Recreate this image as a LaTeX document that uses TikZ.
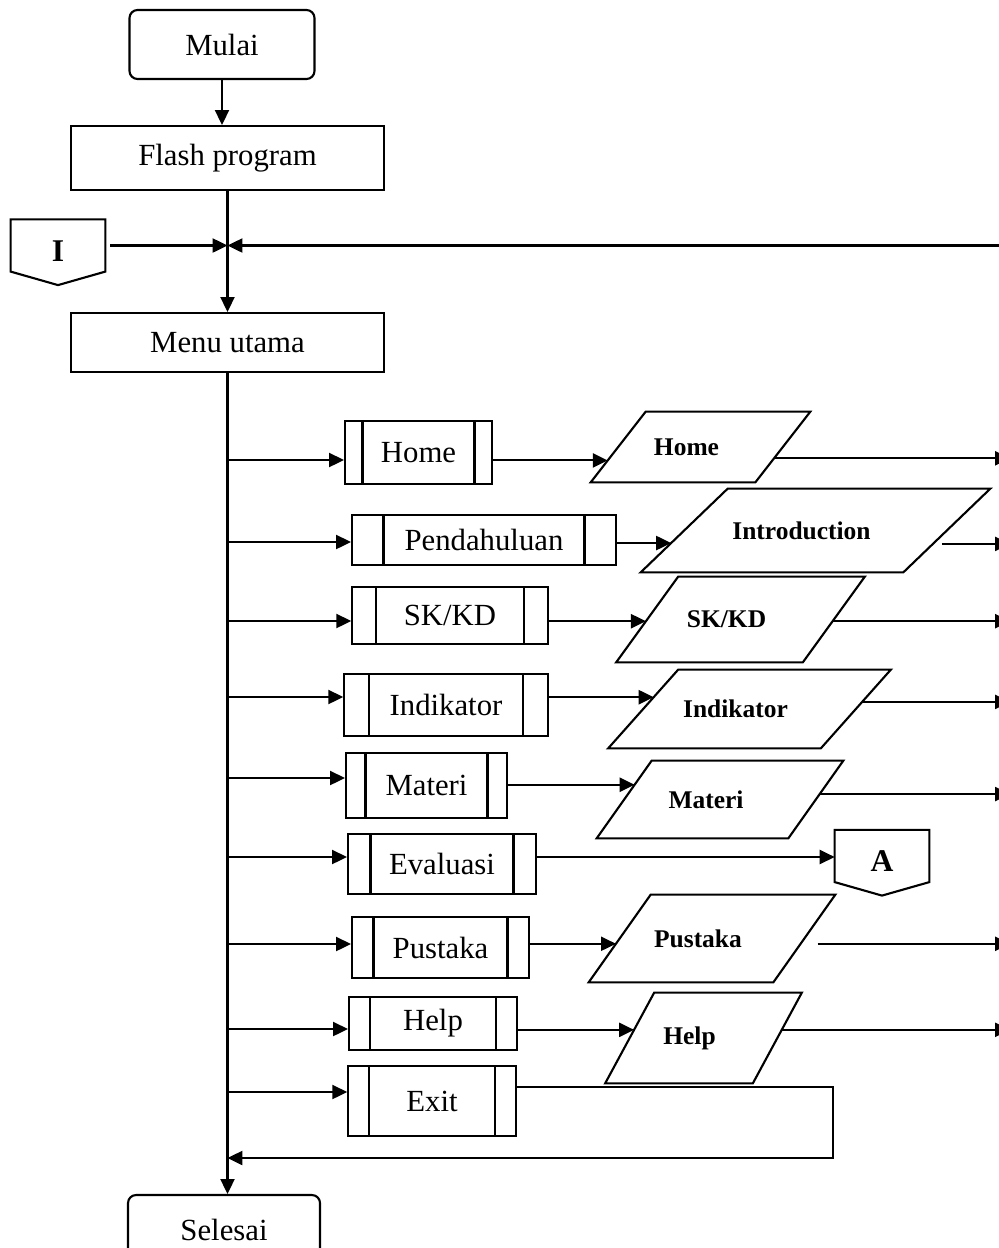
\documentclass[tikz,border=0pt]{standalone}
\usepackage{fontspec}
\setmainfont{Liberation Serif}
\usepackage{tikz}
\usetikzlibrary{arrows.meta,calc}

\tikzset{
	wire/.style={line width=1.2pt},
	flow/.style={wire, -{Triangle[length=8.5pt,width=8pt]}},
	box/.style={draw, wire, inner sep=0pt, font=\fontsize{17.5}{20}\selectfont},
	term/.style={box, rounded corners=0.16cm},
	subproc/.style={box, path picture={
			\draw[wire]
			([xshift=#1]path picture bounding box.north west) -- ([xshift=#1]path picture bounding box.south west)
			([xshift=-#1]path picture bounding box.north east) -- ([xshift=-#1]path picture bounding box.south east);}},
	% parallelogram, #1 = half of the slant
	io/.style={inner sep=0pt, font=\fontsize{14.5}{17}\selectfont\bfseries,
		execute at end node={\hspace{0.56cm}},
		append after command={\pgfextra{\let\ioname\tikzlastnode
				\coordinate (\ioname-bl) at ([xshift=-#1]\ioname.south west);
				\coordinate (\ioname-tl) at ([xshift=#1]\ioname.north west);
				\coordinate (\ioname-tr) at ([xshift=#1]\ioname.north east);
				\coordinate (\ioname-br) at ([xshift=-#1]\ioname.south east);
				\draw[wire] (\ioname-bl) -- (\ioname-tl) -- (\ioname-tr) -- (\ioname-br) -- cycle;}}},
	offpage/.style={inner sep=0pt, minimum width=1.88cm, minimum height=1.03cm,
		text height=0.62cm, text depth=0pt, font=\fontsize{18}{20}\selectfont\bfseries,
		append after command={\pgfextra{\draw[wire]
				(\tikzlastnode.north west) -- (\tikzlastnode.north east) -- (\tikzlastnode.south east)
				-- ([yshift=-0.27cm]\tikzlastnode.south) -- (\tikzlastnode.south west) -- cycle;}}}
}

\begin{document}
\begin{tikzpicture}[x=0.02cm, y=-0.02cm]
	\useasboundingbox (0,0) rectangle (998,1248);
	
	% main column
	\node[term, minimum width=3.70cm, minimum height=1.38cm] (start) at (222,44.5) {Mulai};
	\node[box, minimum width=6.26cm, minimum height=1.28cm] (flash) at (227.5,158) {Flash program};
	\node[box, minimum width=6.26cm, minimum height=1.18cm] (menu) at (227.5,342.5) {Menu utama};
	\node[term, minimum width=3.84cm, minimum height=1.40cm] (stop) at (224,1230) {Selesai};
	\node[offpage] (I) at (58,245.5) {I};
	
	% menu buttons
	\node[subproc=0.35cm, minimum width=2.94cm, minimum height=1.26cm] (Home) at (418.5,452.5) {Home};
	\node[subproc=0.63cm, minimum width=5.28cm, minimum height=1.00cm] (Pend) at (484,540) {Pendahuluan};
	\node[subproc=0.48cm, minimum width=3.91cm, minimum height=1.14cm] (SKKD) at (450,615.5) {SK/KD};
	\node[subproc=0.49cm, minimum width=4.07cm, minimum height=1.24cm] (Ind) at (446,705) {Indikator};
	\node[subproc=0.39cm, minimum width=3.22cm, minimum height=1.30cm] (Mat) at (426.5,785.5) {Materi};
	\node[subproc=0.45cm, minimum width=3.76cm, minimum height=1.20cm] (Eval) at (442,864) {Evaluasi};
	\node[subproc=0.43cm, minimum width=3.54cm, minimum height=1.22cm] (Pus) at (440.5,947.5) {Pustaka};
	\node[subproc=0.42cm, minimum width=3.36cm, minimum height=1.06cm] (Help) at (433,1023.5) {Help};
	\node[subproc=0.41cm, minimum width=3.35cm, minimum height=1.40cm] (Exit) at (432,1101) {Exit};
	
	% pages shown
	\node[io=0.55cm, minimum width=3.28cm, minimum height=1.40cm] (HomeIO) at (700.5,447) {Home};
	\node[io=0.87cm, minimum width=5.24cm, minimum height=1.66cm] (PendIO) at (815.5,530.5) {Introduction};
	\node[io=0.62cm, minimum width=3.72cm, minimum height=1.70cm] (SKKDIO) at (740.5,619.5) {SK/KD};
	\node[io=0.70cm, minimum width=4.24cm, minimum height=1.56cm] (IndIO) at (749.5,709) {Indikator};
	\node[io=0.55cm, minimum width=3.82cm, minimum height=1.54cm] (MatIO) at (720,799.5) {Materi};
	\node[io=0.62cm, minimum width=3.68cm, minimum height=1.74cm] (PusIO) at (712,938.5) {Pustaka};
	\node[io=0.49cm, minimum width=2.94cm, minimum height=1.80cm] (HelpIO) at (703.5,1038) {Help};
	\node[offpage] (A) at (882,856) {A};
	
	\path % right border and the exit loop corner
	(1010,0)   coordinate (edge)
	(833,1158) coordinate (loop)
	;
	\path % where the arrows leave the trunk
	(227.5,460)  coordinate (r1)
	(227.5,542)  coordinate (r2)
	(227.5,621)  coordinate (r3)
	(227.5,697)  coordinate (r4)
	(227.5,778)  coordinate (r5)
	(227.5,857)  coordinate (r6)
	(227.5,944)  coordinate (r7)
	(227.5,1029) coordinate (r8)
	(227.5,1092) coordinate (r9)
	;
	% points on the slanted sides
	\coordinate (HomeIn)  at ($(HomeIO-bl)!0.31!(HomeIO-tl)$);
	\coordinate (HomeOut) at ($(HomeIO-br)!0.34!(HomeIO-tr)$);
	\coordinate (PendIn)  at ($(PendIO-bl)!0.35!(PendIO-tl)$);
	\coordinate (PendOut) at ($(PendIO-br)!0.34!(PendIO-tr)$);
	\coordinate (SKKDIn)  at ($(SKKDIO-bl)!0.48!(SKKDIO-tl)$);
	\coordinate (SKKDOut) at ($(SKKDIO-br)!0.48!(SKKDIO-tr)$);
	\coordinate (IndIn)   at ($(IndIO-bl)!0.65!(IndIO-tl)$);
	\coordinate (IndOut)  at ($(IndIO-br)!0.59!(IndIO-tr)$);
	\coordinate (MatIn)   at ($(MatIO-bl)!0.69!(MatIO-tl)$);
	\coordinate (MatOut)  at ($(MatIO-br)!0.57!(MatIO-tr)$);
	\coordinate (PusIn)   at ($(PusIO-bl)!0.44!(PusIO-tl)$);
	\coordinate (PusOut)  at ($(PusIO-br)!0.44!(PusIO-tr)$);
	\coordinate (HelpIn)  at ($(HelpIO-bl)!0.59!(HelpIO-tl)$);
	\coordinate (HelpOut) at ($(HelpIO-br)!0.59!(HelpIO-tr)$);
	
	% trunk
	\draw[flow] (start) -- (start |- flash.north);
	\draw[flow] (flash.south) -- (menu.north);
	\draw[flow, shorten <=0.1cm] (I.east) -- (I.east -| menu.north);
	\draw[flow] (I.east -| edge) -- (I.east -| menu.north);
	\draw[flow] (menu.south) -- (menu.south |- stop.north);
	
	% branches
	\draw[flow] (r1) -- (r1 -| Home.west);
	\draw[flow] (r2) -- (r2 -| Pend.west);
	\draw[flow] (r3) -- (r3 -| SKKD.west);
	\draw[flow] (r4) -- (r4 -| Ind.west);
	\draw[flow] (r5) -- (r5 -| Mat.west);
	\draw[flow] (r6) -- (r6 -| Eval.west);
	\draw[flow] (r7) -- (r7 -| Pus.west);
	\draw[flow] (r8) -- (r8 -| Help.west);
	\draw[flow] (r9) -- (r9 -| Exit.west);
	
	\draw[flow] (HomeIn -| Home.east) -- (HomeIn);
	\draw[flow] (PendIn -| Pend.east) -- (PendIn);
	\draw[flow] (SKKDIn -| SKKD.east) -- (SKKDIn);
	\draw[flow] (IndIn -| Ind.east) -- (IndIn);
	\draw[flow] (MatIn -| Mat.east) -- (MatIn);
	\draw[flow] (r6 -| Eval.east) -- (r6 -| A.west);
	\draw[flow] (PusIn -| Pus.east) -- (PusIn);
	\draw[flow] (HelpIn -| Help.east) -- (HelpIn);
	\draw[flow] ([yshift=0.28cm]Exit.east) -| (loop) -- (loop -| menu.south);
	
	% off to the right
	\draw[flow] (HomeOut) -- (HomeOut -| edge);
	\draw[flow, shorten <=0.18cm] (PendOut) -- (PendOut -| edge);
	\draw[flow] (SKKDOut) -- (SKKDOut -| edge);
	\draw[flow] (IndOut) -- (IndOut -| edge);
	\draw[flow] (MatOut) -- (MatOut -| edge);
	\draw[flow, shorten <=0.34cm] (PusOut) -- (PusOut -| edge);
	\draw[flow] (HelpOut) -- (HelpOut -| edge);
\end{tikzpicture}
\end{document}
